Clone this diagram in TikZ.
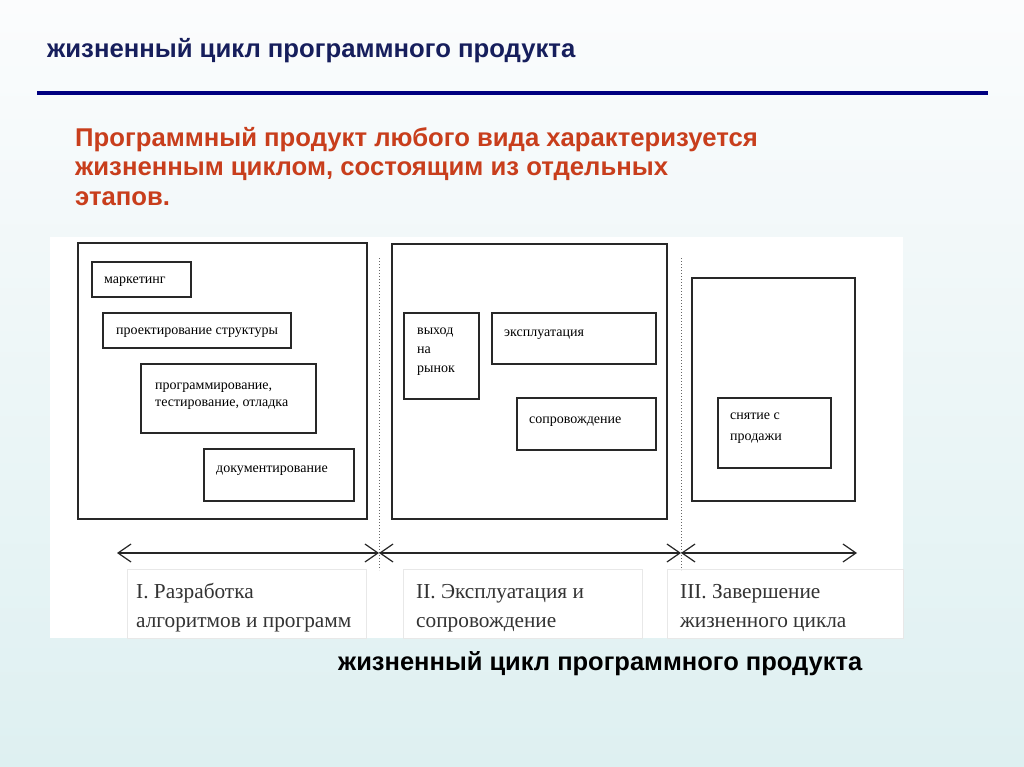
\documentclass[tikz,border=0pt]{standalone}
\usepackage{fontspec}
\setmainfont{Liberation Serif}
\newfontfamily\hsans{Liberation Sans}
\usetikzlibrary{arrows.meta}
\definecolor{navy}{RGB}{22,30,92}
\definecolor{rulecol}{RGB}{0,0,128}
\definecolor{redtxt}{RGB}{200,62,28}
\definecolor{bgtop}{RGB}{251,252,253}
\definecolor{bgbot}{RGB}{222,240,241}
\definecolor{boxline}{RGB}{40,40,40}
\begin{document}
\begin{tikzpicture}[x=1pt,y=-1pt,
  bigbox/.style={draw=boxline,line width=1.8pt},
  smallbox/.style={draw=boxline,line width=1.4pt},
  itxt/.style={anchor=base west,inner sep=0pt,font=\fontsize{14}{16}\selectfont,text=black},
  ltxt/.style={anchor=base west,inner sep=0pt,font=\fontsize{21.3}{27}\selectfont,text=black!80},
  lbox/.style={draw=black!9,fill=white,line width=0.8pt},
  divline/.style={draw=black!60,dotted,line width=1pt},
  hfont/.style={anchor=base west,inner sep=0pt,font=\hsans\bfseries\fontsize{25.7}{30}\selectfont},
  tl/.style={line width=1.2pt,draw=black!85,{Straight Barb[length=13pt,width=18pt]}-{Straight Barb[length=13pt,width=18pt]}}
]
\useasboundingbox (0,0) rectangle (1024,767);
\shade[top color=bgtop,bottom color=bgbot] (0,0) rectangle (1024,767);

% title and rule
\node[hfont,text=navy] (title) at (47,58) {жизненный цикл программного продукта};
\coordinate (r0) at (37,93);
\coordinate (r1) at (988,93);
\draw[rulecol,line width=4pt] (r0) -- (r1);

% red intro text
\node[hfont,text=redtxt] (intro1) at (75,147) {Программный продукт любого вида характеризуется};
\node[hfont,text=redtxt] (intro2) at (75,176) {жизненным циклом, состоящим из отдельных};
\node[hfont,text=redtxt] (intro3) at (75,206) {этапов.};

% white diagram area
\fill[white] (50,237) rectangle (903,638);

% stage 1
\draw[bigbox] (78,243) rectangle (367,519);
\draw[smallbox] (92,262) rectangle (191,297);
\node[itxt] (t1) at (104,283) {маркетинг};
\draw[smallbox] (103,313) rectangle (291,348);
\node[itxt] (t2) at (116,334) {проектирование структуры};
\draw[smallbox] (141,364) rectangle (316,433);
\node[itxt] (t3a) at (155,389) {программирование,};
\node[itxt] (t3b) at (155,406) {тестирование, отладка};
\draw[smallbox] (204,449) rectangle (354,501);
\node[itxt] (t4) at (216,472) {документирование};

% stage 2
\draw[bigbox] (392,244) rectangle (667,519);
\draw[smallbox] (404,313) rectangle (479,399);
\node[itxt] (t5a) at (417,334) {выход};
\node[itxt] (t5b) at (417,353) {на};
\node[itxt] (t5c) at (417,372) {рынок};
\draw[smallbox] (492,313) rectangle (656,364);
\node[itxt] (t6) at (504,336) {эксплуатация};
\draw[smallbox] (517,398) rectangle (656,450);
\node[itxt] (t7) at (529,423) {сопровождение};

% stage 3
\draw[bigbox] (692,278) rectangle (855,501);
\draw[smallbox] (718,398) rectangle (831,468);
\node[itxt] (t8a) at (730,419) {снятие с};
\node[itxt] (t8b) at (730,440) {продажи};

% label boxes
\draw[lbox] (127,569) rectangle (366,638);
\draw[lbox] (403,569) rectangle (642,638);
\draw[lbox] (667,569) rectangle (903,638);
\node[ltxt] (l1a) at (136,598) {I. Разработка};
\node[ltxt] (l1b) at (136,627) {алгоритмов и программ};
\node[ltxt] (l2a) at (416,598) {II. Эксплуатация и};
\node[ltxt] (l2b) at (416,627) {сопровождение};
\node[ltxt] (l3a) at (680,598) {III. Завершение};
\node[ltxt] (l3b) at (680,627) {жизненного цикла};

% dividers
\coordinate (d1t) at (379,258);
\coordinate (d1b) at (379,570);
\coordinate (d2t) at (681,258);
\coordinate (d2b) at (681,570);
\draw[divline] (d1t) -- (d1b);
\draw[divline] (d2t) -- (d2b);

% time axis
\coordinate (a0) at (117,553);
\coordinate (a1) at (379,553);
\coordinate (a2) at (681,553);
\coordinate (a3) at (857,553);
\draw[tl] (a0) -- (a1);
\draw[tl] (a1) -- (a2);
\draw[tl] (a2) -- (a3);

% caption
\node[hfont,font=\hsans\bfseries\fontsize{25.5}{30}\selectfont,text=black] (caption) at (338,670) {жизненный цикл программного продукта};
\end{tikzpicture}
\end{document}
